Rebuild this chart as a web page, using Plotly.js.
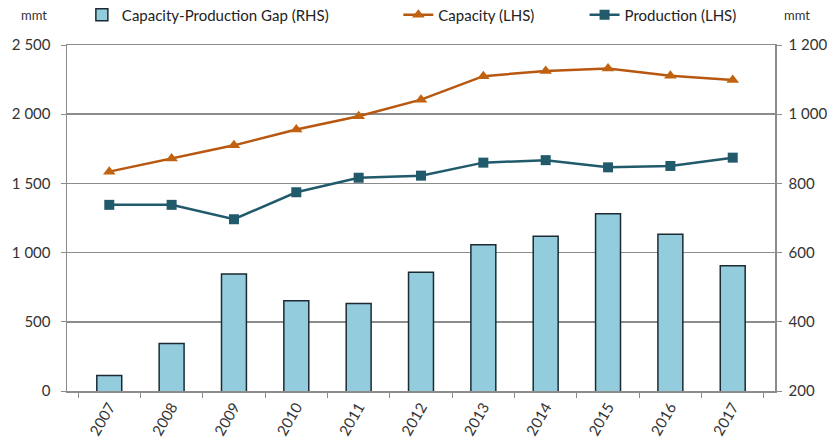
<!DOCTYPE html>
<html>
<head>
<meta charset="utf-8">
<script src="https://cdn.plot.ly/plotly-3.0.1.min.js"></script>
<style>
  html, body { margin: 0; padding: 0; background: #ffffff; }
  #chart { width: 827px; height: 447px; }
</style>
</head>
<body>
<div id="chart"></div>
<script>
// Years on the category axis
var years = ['2007', '2008', '2009', '2010', '2011', '2012', '2013', '2014', '2015', '2016', '2017'];

// Steel capacity and production, million metric tonnes (left axis)
var capacity = [1585, 1680, 1775, 1890, 1985, 2105, 2275, 2312, 2330, 2278, 2248];
var production = [1345, 1345, 1241, 1436, 1541, 1556, 1650, 1668, 1616, 1626, 1686];

// Capacity minus production, million metric tonnes (right axis)
var gap = [245, 337, 538, 461, 453, 543, 623, 647, 712, 653, 562];

// Axis tick values
var leftTicks = [0, 500, 1000, 1500, 2000, 2500];
var rightTicks = [200, 400, 600, 800, 1000, 1200];

var FONT = 'Lato, "Open Sans", sans-serif';
var TEXT = '#333333';
var GRID = '#8c8c8c';

var traces = [
  {
    type: 'bar',
    name: 'Capacity-Production Gap (RHS)',
    x: years,
    y: gap,
    yaxis: 'y2',
    marker: { color: '#93cddd', line: { color: '#1c2b33', width: 1.5 } },
    legend: 'legend'
  },
  {
    type: 'scatter',
    mode: 'lines+markers',
    name: 'Capacity (LHS)',
    x: years,
    y: capacity,
    yaxis: 'y',
    line: { color: '#b8570f', width: 2.5 },
    marker: { symbol: 'triangle-up', size: 11, color: '#c0620f' },
    legend: 'legend2'
  },
  {
    type: 'scatter',
    mode: 'lines+markers',
    name: 'Production (LHS)',
    x: years,
    y: production,
    yaxis: 'y',
    line: { color: '#215a6b', width: 2.5 },
    marker: { symbol: 'square', size: 10, color: '#215a6b' },
    legend: 'legend3'
  }
];

var legendBase = {
  orientation: 'h',
  xanchor: 'left',
  yanchor: 'middle',
  y: 1.087,
  bgcolor: 'rgba(0,0,0,0)',
  font: { family: FONT, size: 15, color: '#222222' },
  itemwidth: 30
};

var layout = {
  width: 827,
  height: 447,
  margin: { l: 67, r: 52, t: 45, b: 56, autoexpand: false },
  paper_bgcolor: '#ffffff',
  plot_bgcolor: '#ffffff',
  separators: '. ',
  font: { family: FONT, size: 14, color: TEXT },
  bargap: 0.6,
  showlegend: true,
  legend: Object.assign({}, legendBase, { x: 0.021 }),
  legend2: Object.assign({}, legendBase, { x: 0.468 }),
  legend3: Object.assign({}, legendBase, { x: 0.731 }),
  xaxis: {
    type: 'category',
    tickangle: -60,
    tickson: 'boundaries',
    ticks: 'outside',
    ticklen: 5,
    tickcolor: GRID,
    showline: true,
    linecolor: GRID,
    linewidth: 1.5,
    mirror: true,
    showgrid: false,
    tickfont: { family: FONT, size: 15, color: TEXT }
  },
  yaxis: {
    range: [0, 2500],
    tickvals: leftTicks,
    separatethousands: true,
    ticks: 'outside',
    ticklen: 5,
    tickcolor: GRID,
    ticklabelstandoff: 7,
    showline: true,
    linecolor: GRID,
    linewidth: 1.5,
    showgrid: true,
    gridcolor: GRID,
    gridwidth: 1.5,
    zeroline: false,
    tickfont: { family: FONT, size: 15, color: TEXT }
  },
  yaxis2: {
    overlaying: 'y',
    side: 'right',
    range: [200, 1200],
    tickvals: rightTicks,
    separatethousands: true,
    ticks: 'outside',
    ticklen: 5,
    tickcolor: GRID,
    ticklabelstandoff: 4,
    showline: true,
    linecolor: GRID,
    linewidth: 1.5,
    showgrid: false,
    zeroline: false,
    tickfont: { family: FONT, size: 15, color: TEXT }
  },
  annotations: [
    { text: 'mmt', xref: 'paper', yref: 'paper', x: -0.068, y: 1.087, xanchor: 'left', yanchor: 'middle',
      showarrow: false, font: { family: FONT, size: 13, color: TEXT } },
    { text: 'mmt', xref: 'paper', yref: 'paper', x: 1.01, y: 1.087, xanchor: 'left', yanchor: 'middle',
      showarrow: false, font: { family: FONT, size: 13, color: TEXT } }
  ]
};

Plotly.newPlot('chart', traces, layout, { displayModeBar: false, staticPlot: true });
</script>
</body>
</html>
